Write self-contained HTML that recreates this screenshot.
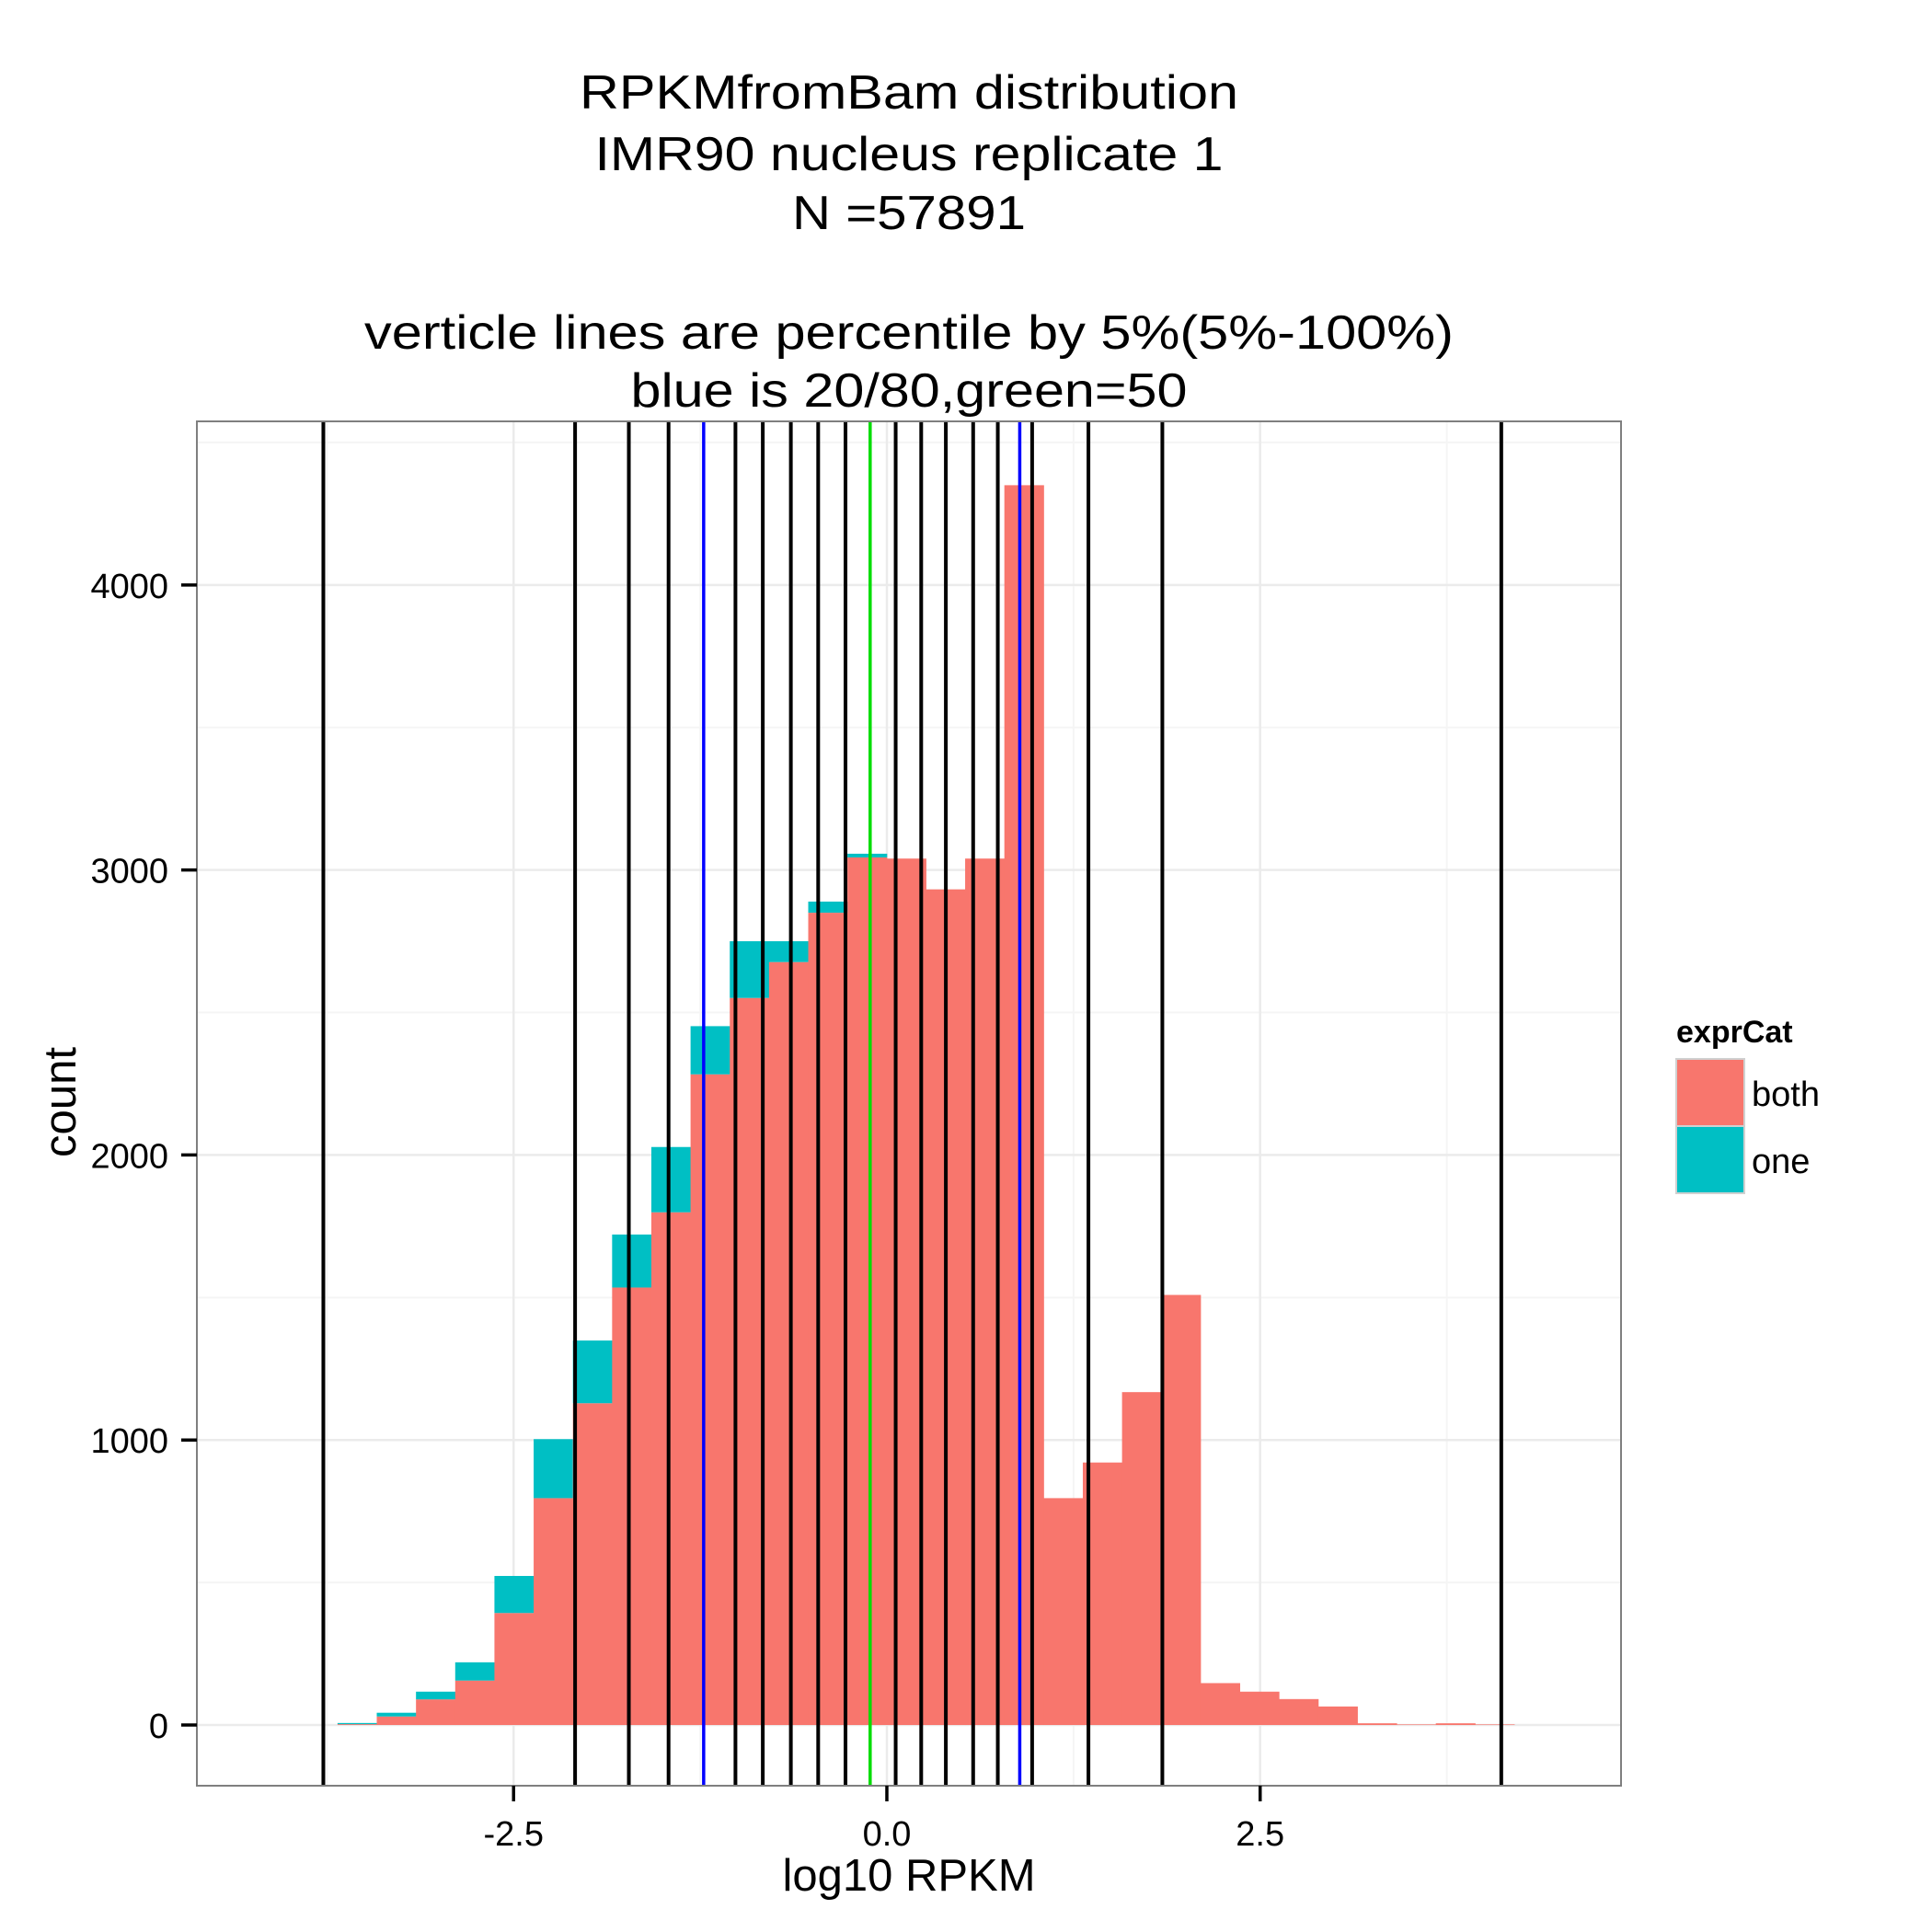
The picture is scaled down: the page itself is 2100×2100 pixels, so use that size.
<!DOCTYPE html>
<html><head><meta charset="utf-8"><style>
html,body{margin:0;padding:0;background:#fff;}
svg{display:block;font-family:"Liberation Sans",Arial,sans-serif;}
</style></head><body>
<svg id="chart" width="2100" height="2100" viewBox="0 0 2100 2100">
<g font-size="52" text-anchor="middle" fill="#000">
<text x="988" y="118" textLength="716" lengthAdjust="spacingAndGlyphs">RPKMfromBam distribution</text>
<text x="988" y="185" textLength="683" lengthAdjust="spacingAndGlyphs">IMR90 nucleus replicate 1</text>
<text x="988" y="249" textLength="254" lengthAdjust="spacingAndGlyphs">N =57891</text>
<text x="988" y="379" textLength="1184" lengthAdjust="spacingAndGlyphs">verticle lines are percentile by 5%(5%-100%)</text>
<text x="988" y="442" textLength="605" lengthAdjust="spacingAndGlyphs">blue is 20/80,green=50</text>
</g>
<g id="grid"></g>
<g id="bars"></g>
<g id="vlines"></g>
<rect x="214" y="458" width="1548" height="1483" fill="none" stroke="#7f7f7f" stroke-width="2"/>
<g id="axes"></g>
<text x="988" y="2055" font-size="49" text-anchor="middle">log10 RPKM</text>
<text transform="translate(82,1198) rotate(-90)" font-size="49" text-anchor="middle">count</text>
<g>
<text x="1822" y="1133" font-size="34" font-weight="bold">exprCat</text>
<rect x="1822" y="1151" width="74" height="73" fill="#F8766D" stroke="#d0d0d0" stroke-width="2"/>
<rect x="1822" y="1224" width="74" height="73" fill="#00BFC4" stroke="#d0d0d0" stroke-width="2"/>
<text x="1904" y="1202" font-size="38">both</text>
<text x="1904" y="1275" font-size="38">one</text>
</g>
</svg>
<script>
const binStart = -3.679;
const binWidth = 0.2937;
const bothCounts = [3,30,90,156,393,796,1129,1535,1799,2283,2551,2677,2850,3044,3040,2932,3040,4350,796,921,1168,1509,147,117,91,65,6,2,6,2];
const oneCounts  = [4,13,27,64,130,207,220,186,229,169,199,73,39,13,0,0,0,0,0,0,0,0,0,0,0,0,0,0,0,0];
const blackLines = [-3.774,-2.088,-1.728,-1.462,-1.014,-0.831,-0.643,-0.460,-0.277,0.059,0.230,0.395,0.578,0.743,0.973,1.350,1.845,4.115];
const blueLines = [-1.227,0.890];
const greenLines = [-0.112];
const xTicks = [-2.5,0,2.5];
const xTickLabels = ["-2.5","0.0","2.5"];
const yTicks = [0,1000,2000,3000,4000];
const yTickLabels = ["0","1000","2000","3000","4000"];

const PL=214,PR=1762,PT=458,PB=1941;
const xMin=-4.621,xMax=4.917,yMin=-213,yMax=4574;
function X(v){return PL+(v-xMin)/(xMax-xMin)*(PR-PL);}
function Y(v){return PB-(v-yMin)/(yMax-yMin)*(PB-PT);}
const NS="http://www.w3.org/2000/svg";
function mk(tag,attrs,parent){const e=document.createElementNS(NS,tag);for(const k in attrs)e.setAttribute(k,attrs[k]);parent.appendChild(e);return e;}
const bw=(4.202-binStart)/bothCounts.length;
const grid=document.getElementById('grid');
mk('rect',{x:PL,y:PT,width:PR-PL,height:PB-PT,fill:'#fff'},grid);
for(let v=500;v<4574;v+=1000){const l=mk('line',{x1:PL,x2:PR,y1:Y(v),y2:Y(v),stroke:'#f5f5f5','stroke-width':2},grid);

}
[-3.75,-1.25,1.25,3.75].forEach(v=>{const l=mk('line',{x1:X(v),x2:X(v),y1:PT,y2:PB,stroke:'#f5f5f5','stroke-width':2},grid);

});
yTicks.forEach(v=>{const l=mk('line',{x1:PL,x2:PR,y1:Y(v),y2:Y(v),stroke:'#ebebeb','stroke-width':2.5},grid);

});
xTicks.forEach(v=>{const l=mk('line',{x1:X(v),x2:X(v),y1:PT,y2:PB,stroke:'#ebebeb','stroke-width':2.5},grid);

});
const bars=document.getElementById('bars');
bothCounts.forEach((c,i)=>{
 const x0=X(binStart+i*bw),x1=X(binStart+(i+1)*bw);
 const r=mk('rect',{x:x0,y:Y(c),width:x1-x0+0.5,height:Y(0)-Y(c),fill:'#F8766D'},bars);
 
 
 const o=oneCounts[i];
 if(o>0){const r2=mk('rect',{x:x0,y:Y(c+o),width:x1-x0+0.5,height:Y(c)-Y(c+o),fill:'#00BFC4'},bars);
 
 }
});
const vl=document.getElementById('vlines');
blackLines.forEach(v=>{const l=mk('line',{x1:X(v),x2:X(v),y1:PT,y2:PB,stroke:'#000','stroke-width':4},vl);

});
blueLines.forEach(v=>{const l=mk('line',{x1:X(v),x2:X(v),y1:PT,y2:PB,stroke:'#0000ff','stroke-width':3.5},vl);

});
greenLines.forEach(v=>{const l=mk('line',{x1:X(v),x2:X(v),y1:PT,y2:PB,stroke:'#00dd00','stroke-width':3.5},vl);

});
const ax=document.getElementById('axes');
yTicks.forEach((v,i)=>{
 const t=mk('line',{x1:197,x2:PL,y1:Y(v),y2:Y(v),stroke:'#000','stroke-width':3.5},ax);
 
 
 const tx=mk('text',{x:183,y:Y(v)+14,'font-size':38,'text-anchor':'end'},ax);
 tx.textContent=yTickLabels[i];
 
 
});
xTicks.forEach((v,i)=>{
 const t=mk('line',{x1:X(v),x2:X(v),y1:PB,y2:PB+17,stroke:'#000','stroke-width':3.5},ax);
 
 
 const tx=mk('text',{x:X(v),y:2006,'font-size':38,'text-anchor':'middle'},ax);
 tx.textContent=xTickLabels[i];
 
 
});
</script>
</body></html>
